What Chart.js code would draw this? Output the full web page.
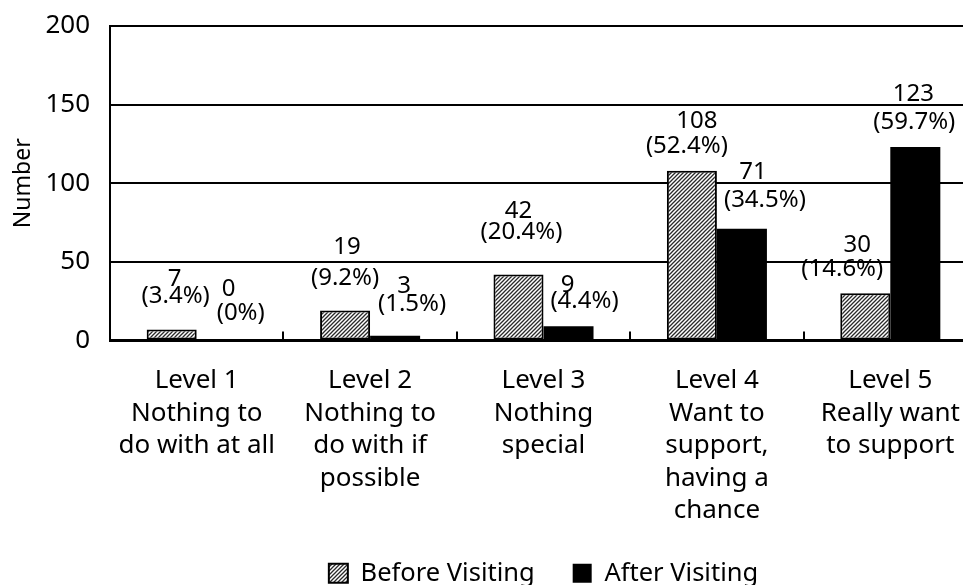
<!DOCTYPE html>
<html>
<head>
<meta charset="utf-8">
<title>Number of respondents by support level</title>
<script src="https://cdn.jsdelivr.net/npm/chart.js@4.4.1/dist/chart.umd.min.js"></script>
<style>
  html, body { margin: 0; padding: 0; background: #fff; overflow: hidden; }
  canvas { display: block; }
</style>
</head>
<body>
<canvas id="chart" width="977" height="596"></canvas>
<script>
// ---- data ----
const categories = [
  ['Level 1', 'Nothing to', 'do with at all'],
  ['Level 2', 'Nothing to', 'do with if', 'possible'],
  ['Level 3', 'Nothing', 'special'],
  ['Level 4', 'Want to', 'support,', 'having a', 'chance'],
  ['Level 5', 'Really want', 'to support']
];
const seriesNames = ['Before Visiting', 'After Visiting'];
const beforeCounts = [7, 19, 42, 108, 30];
const afterCounts = [0, 3, 9, 71, 123];
const beforePercents = ['3.4', '9.2', '20.4', '52.4', '14.6'];
const afterPercents = ['0', '1.5', '4.4', '34.5', '59.7'];
const yTicks = [0, 50, 100, 150, 200];
const yTitle = 'Number';

// label nudges [dx, dy] from the top centre of each bar
const countNudge = [
  [[3, -52], [2, -65], [0, -65], [5, -51], [-8, -50]],
  [[7, -53], [9, -51], [-1, -43], [11, -58], [-2, -55]]
];
const percentNudge = [
  [[4, -35], [0, -34], [3, -44], [-5, -26], [-23, -26]],
  [[19, -29], [17, -33], [16, -27], [23, -30], [-1, -27]]
];

// ---- styling ----
const FONT = '"Noto Sans", "DejaVu Sans", sans-serif';
Chart.defaults.font.family = FONT;
Chart.defaults.color = '#000';

function hatchPattern() {
  const s = 4;
  const c = document.createElement('canvas');
  c.width = s; c.height = s;
  const g = c.getContext('2d');
  g.fillStyle = '#fff';
  g.fillRect(0, 0, s, s);
  g.strokeStyle = '#2a2a2a';
  g.lineWidth = 1.3;
  g.beginPath();
  g.moveTo(0, s); g.lineTo(s, 0);
  g.moveTo(-1, 1); g.lineTo(1, -1);
  g.moveTo(s - 1, s + 1); g.lineTo(s + 1, s - 1);
  g.stroke();
  return document.getElementById('chart').getContext('2d').createPattern(c, 'repeat');
}
const hatch = hatchPattern();

// small upward tick marks between categories on the baseline
const categoryTicks = {
  id: 'categoryTicks',
  afterDatasetsDraw(chart) {
    const xs = chart.scales.x;
    const ctx = chart.ctx;
    const bottom = chart.chartArea.bottom;
    ctx.save();
    ctx.strokeStyle = '#000';
    ctx.lineWidth = 2;
    for (let i = 1; i < categories.length; i++) {
      const px = Math.round((xs.getPixelForValue(i - 1) + xs.getPixelForValue(i)) / 2);
      ctx.beginPath();
      ctx.moveTo(px, bottom);
      ctx.lineTo(px, bottom - 9);
      ctx.stroke();
    }
    ctx.restore();
  }
};

// count and percentage labels above each bar
const valueLabels = {
  id: 'valueLabels',
  afterDatasetsDraw(chart) {
    const ctx = chart.ctx;
    const size = 24;
    const capHalf = size * 0.357;
    const counts = [beforeCounts, afterCounts];
    const percents = [beforePercents, afterPercents];
    ctx.save();
    ctx.font = size + 'px ' + FONT;
    ctx.fillStyle = '#000';
    ctx.textAlign = 'center';
    ctx.textBaseline = 'alphabetic';
    for (let d = 0; d < 2; d++) {
      chart.getDatasetMeta(d).data.forEach((bar, i) => {
        const n = countNudge[d][i];
        const p = percentNudge[d][i];
        ctx.fillText(String(counts[d][i]), bar.x + n[0], bar.y + n[1] + capHalf);
        ctx.fillText('(' + percents[d][i] + '%)', bar.x + p[0], bar.y + p[1] + capHalf);
      });
    }
    ctx.restore();
  }
};

new Chart(document.getElementById('chart'), {
  type: 'bar',
  data: {
    labels: categories,
    datasets: [
      {
        label: seriesNames[0],
        data: beforeCounts,
        backgroundColor: hatch,
        borderColor: '#000',
        borderWidth: 2,
        borderSkipped: false
      },
      {
        label: seriesNames[1],
        data: afterCounts,
        backgroundColor: '#000',
        borderColor: '#000',
        borderWidth: 0
      }
    ]
  },
  options: {
    responsive: false,
    devicePixelRatio: 1,
    animation: false,
    datasets: {
      bar: { barPercentage: 1, categoryPercentage: 0.577 }
    },
    layout: { padding: { top: 26, right: 0, bottom: 0, left: 0 } },
    plugins: {
      tooltip: { enabled: false },
      legend: {
        position: 'bottom',
        fullSize: false,
        labels: {
          font: { size: 25.5 },
          color: '#000',
          boxWidth: 19,
          boxHeight: 19,
          padding: 38
        }
      }
    },
    scales: {
      x: {
        grid: { display: false, drawTicks: true, tickLength: 24 },
        border: { display: true, color: '#000', width: 3 },
        ticks: {
          font: { size: 26, lineHeight: 1.25 },
          color: '#000',
          padding: 0,
          autoSkip: false,
          maxRotation: 0,
          minRotation: 0
        },
        afterFit(scale) { scale.height = 182; }
      },
      y: {
        min: 0,
        max: 200,
        afterBuildTicks(scale) { scale.ticks = yTicks.map(v => ({ value: v })); },
        grid: {
          color: '#000',
          lineWidth: 2,
          drawTicks: true,
          tickLength: 20,
          tickColor: 'rgba(0,0,0,0)'
        },
        border: { display: true, color: '#000', width: 2 },
        ticks: { font: { size: 26 }, color: '#000', padding: 0 },
        title: {
          display: true,
          text: yTitle,
          font: { size: 23 },
          color: '#000',
          padding: { top: 10, bottom: 0 }
        },
        afterFit(scale) { scale.width = 110; }
      }
    }
  },
  plugins: [categoryTicks, valueLabels]
});
</script>
</body>
</html>
